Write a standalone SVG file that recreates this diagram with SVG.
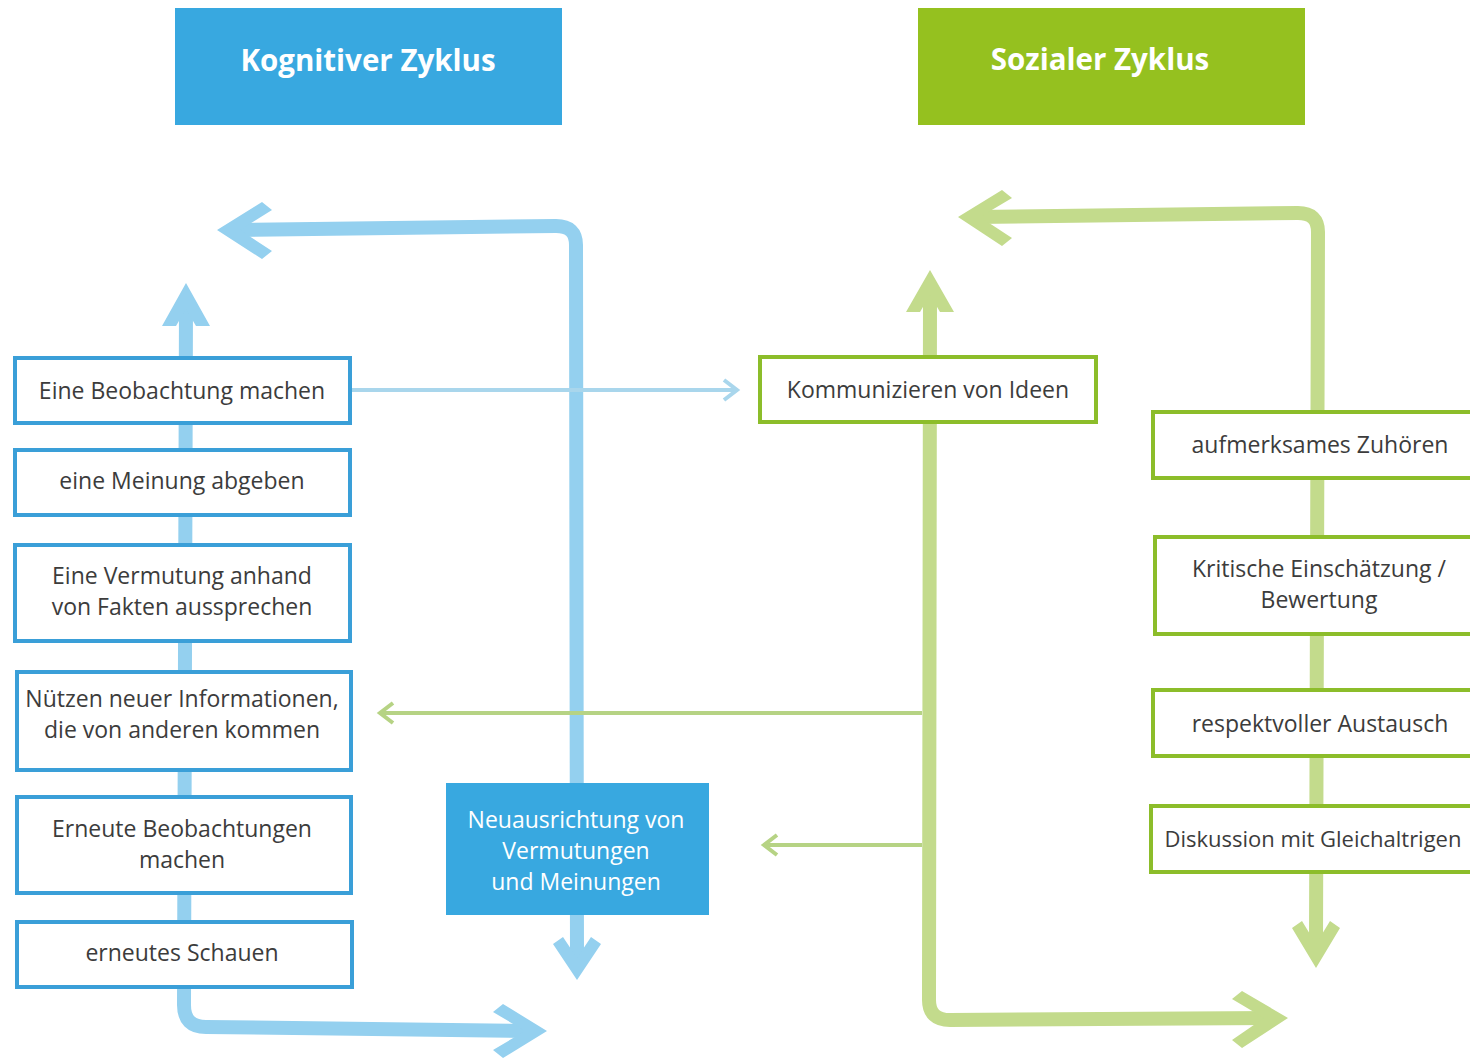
<svg xmlns="http://www.w3.org/2000/svg" width="1470" height="1060" viewBox="0 0 1470 1060">
<style>
.t{font-family:"Open Sans","Noto Sans",sans-serif;font-size:23px;fill:#3c3c3c;text-anchor:middle}
.tw{font-family:"Open Sans","Noto Sans",sans-serif;font-size:23px;fill:#ffffff;text-anchor:middle}
.h{font-family:"Open Sans","Noto Sans",sans-serif;font-size:29.5px;font-weight:bold;fill:#ffffff;text-anchor:middle}
.bb{fill:#ffffff;stroke:#3a9fd8;stroke-width:4}
.gb{fill:#ffffff;stroke:#8cbd2a;stroke-width:4}
.bl{fill:none;stroke:#94d0ef;stroke-width:14;stroke-linejoin:round}
.gl{fill:none;stroke:#c3db8c;stroke-width:14;stroke-linejoin:round}
.bth{fill:none;stroke:#a9d6ec;stroke-width:4}
.gth{fill:none;stroke:#b6d384;stroke-width:4}
</style>
<rect width="1470" height="1060" fill="#ffffff"/>
<g id="connectors">
  <path class="bl" d="M186 300 L184 1005 Q184 1027 206 1027 L535 1031"/>
  <polygon fill="#94d0ef" points="186,283 162,326 176,326 186,309 196,326 210,326"/>
  <polygon fill="#94d0ef" points="547,1031 503,1004 493,1012 525,1031 493,1050 503,1058"/>
  <path class="bl" d="M577 965 L576 245 Q576 226 556 226 L235 230"/>
  <polygon fill="#94d0ef" points="217,230 262,202 272,210 240,230 272,251 262,259"/>
  <polygon fill="#94d0ef" points="577,980 553,944 563,937 577,958 591,937 601,944"/>
  <path class="bth" d="M350 390 L736 390"/>
  <path class="bth" d="M724 380 L737 390 L724 400"/>
  <path class="gl" d="M930 290 L929 1000 Q929 1020 950 1020 L1272 1018"/>
  <polygon fill="#c3db8c" points="930,270 906,312 920,312 930,295 940,312 954,312"/>
  <polygon fill="#c3db8c" points="1288,1018 1242,991 1232,999 1264,1018 1232,1040 1242,1048"/>
  <path class="gl" d="M1316 945 L1318 232 Q1318 213 1298 213 L975 217"/>
  <polygon fill="#c3db8c" points="958,217 1002,190 1012,198 980,217 1012,238 1002,246"/>
  <polygon fill="#c3db8c" points="1316,968 1292,928 1302,921 1316,944 1330,921 1340,928"/>
  <path class="gth" d="M922 713 L380 713"/>
  <path class="gth" d="M393 703 L380 713 L393 723"/>
  <path class="gth" d="M922 845 L764 845"/>
  <path class="gth" d="M777 835 L764 845 L777 855"/>
</g>
<g id="header-kognitiv">
  <rect x="175" y="8" width="387" height="117" fill="#38a8e0"/>
  <text class="h" x="368" y="71">Kognitiver Zyklus</text>
</g>
<g id="header-sozial">
  <rect x="918" y="8" width="387" height="117" fill="#95c11f"/>
  <text class="h" x="1100" y="70">Sozialer Zyklus</text>
</g>
<g id="n1"><rect class="bb" x="15" y="358" width="335" height="65"/><text class="t" x="182" y="399">Eine Beobachtung machen</text></g>
<g id="n2"><rect class="bb" x="15" y="450" width="335" height="65"/><text class="t" x="182" y="489">eine Meinung abgeben</text></g>
<g id="n3"><rect class="bb" x="15" y="545" width="335" height="96"/><text class="t" x="182" y="584">Eine Vermutung anhand</text><text class="t" x="182" y="615">von Fakten aussprechen</text></g>
<g id="n4"><rect class="bb" x="17" y="672" width="334" height="98"/><text class="t" x="182" y="707">Nützen neuer Informationen,</text><text class="t" x="182" y="738">die von anderen kommen</text></g>
<g id="n5"><rect class="bb" x="17" y="797" width="334" height="96"/><text class="t" x="182" y="837">Erneute Beobachtungen</text><text class="t" x="182" y="868">machen</text></g>
<g id="n6"><rect class="bb" x="17" y="922" width="335" height="65"/><text class="t" x="182" y="961">erneutes Schauen</text></g>
<g id="n7"><rect x="446" y="783" width="263" height="132" fill="#38a8e0"/><text class="tw" x="576" y="828">Neuausrichtung von</text><text class="tw" x="576" y="859">Vermutungen</text><text class="tw" x="576" y="890">und Meinungen</text></g>
<g id="g1"><rect class="gb" x="760" y="357" width="336" height="65"/><text class="t" x="928" y="398">Kommunizieren von Ideen</text></g>
<g id="g2"><rect class="gb" x="1153" y="412" width="330" height="66"/><text class="t" x="1320" y="453">aufmerksames Zuhören</text></g>
<g id="g3"><rect class="gb" x="1155" y="537" width="330" height="97"/><text class="t" x="1319" y="577">Kritische Einschätzung /</text><text class="t" x="1319" y="608">Bewertung</text></g>
<g id="g4"><rect class="gb" x="1153" y="690" width="330" height="66"/><text class="t" x="1320" y="732">respektvoller Austausch</text></g>
<g id="g5"><rect class="gb" x="1151" y="806" width="332" height="66"/><text class="t" x="1313" y="847" style="font-size:22px">Diskussion mit Gleichaltrigen</text></g>
</svg>
